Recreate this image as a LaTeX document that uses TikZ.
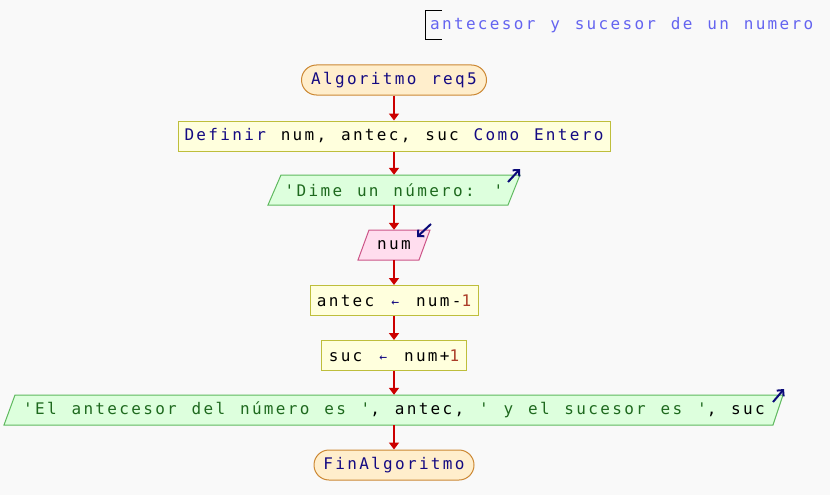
\documentclass[tikz,border=0pt]{standalone}
\usepackage{fontspec}
\newfontfamily\psf[LetterSpace=14.5,WordSpace={1.242,0,0}]{DejaVu Sans Mono}
\usetikzlibrary{arrows.meta}
\definecolor{bg}{RGB}{249,249,249}
\definecolor{termf}{RGB}{255,238,204}
\definecolor{termb}{RGB}{204,136,51}
\definecolor{procf}{RGB}{255,255,221}
\definecolor{procb}{RGB}{190,190,60}
\definecolor{outf}{RGB}{221,255,221}
\definecolor{outb}{RGB}{95,185,95}
\definecolor{inf}{RGB}{255,221,238}
\definecolor{inb}{RGB}{204,85,136}
\definecolor{kw}{RGB}{20,10,130}
\definecolor{strc}{RGB}{30,105,30}
\definecolor{numc}{RGB}{170,60,40}
\definecolor{flowc}{RGB}{204,0,0}
\definecolor{iconc}{RGB}{10,10,120}
\definecolor{comc}{RGB}{100,100,240}
\newcommand{\idt}[1]{\textcolor{black}{#1}}
\newcommand{\strt}[1]{\textcolor{strc}{#1}}
\newcommand{\numt}[1]{\textcolor{numc}{#1}}
\newcommand{\asg}{\makebox[12pt]{\textcolor{kw}{\fontsize{13}{14}\selectfont←}}}
\begin{document}
\begin{tikzpicture}[x=1pt,y=-1pt,
  txt/.style={inner sep=0pt, font=\psf\fontsize{16}{19}\selectfont, text=kw, minimum height=30pt},
  term/.style={txt, draw=termb, fill=termf, rounded corners=15pt, line width=1pt},
  proc/.style={txt, draw=procb, fill=procf, line width=1pt},
  iotext/.style={txt, draw=none},
  outshape/.style={draw=outb, fill=outf, line width=1pt},
  inshape/.style={draw=inb, fill=inf, line width=1pt},
  flow/.style={draw=flowc, line width=2pt, -{Triangle[length=7pt,width=10pt]}},
  icon/.style={draw=iconc, line width=2pt, -{Straight Barb[length=4.5pt,width=9pt]}}
]
\useasboundingbox[fill=bg] (0,0) rectangle (830,495);

% comment
\draw[black, line width=1pt] (442,11) -- (425,11) -- (425,40) -- (442,40);
\node[inner sep=0pt, anchor=west, font=\psf\fontsize{16}{19}\selectfont, text=comc] (com) at (430,25) {antecesor y sucesor de un numero};

% start
\node[term, minimum width=185pt] (start) at (394,80) {Algoritmo req5};
% definir
\node[proc, minimum width=432pt] (def) at (394,136) {Definir \idt{num, antec, suc} Como Entero};
% output 1
\draw[outshape] (281,175) -- (520,175) -- (508,205) -- (268,205) -- cycle;
\node[iotext, minimum width=230pt, text=strc] (dime) at (394,190) {'Dime un número: '};
\draw[icon] (508,182) -- (520,169);
% input
\draw[inshape] (369,230) -- (430,230) -- (419,260) -- (358,260) -- cycle;
\node[iotext, minimum width=60pt, text=black] (num) at (394,245) {num};
\draw[icon] (431,224) -- (417,237);
% assignments
\node[proc, minimum width=168pt, text=black] (antec) at (394,300.5) {antec \asg{} num-\numt{1}};
\node[proc, minimum width=145pt, text=black] (suc) at (394,355.5) {suc \asg{} num+\numt{1}};
% output 2
\draw[outshape] (15,395) -- (783,395) -- (773,425) -- (4,425) -- cycle;
\node[iotext, minimum width=760pt, text=strc] (out) at (394,410) {'El antecesor del número es '\idt{, antec, }' y el sucesor es '\idt{, suc}};
\draw[icon] (773,402) -- (784,389);
% end
\node[term, minimum width=160pt] (fin) at (394,465) {FinAlgoritmo};

% flows
\draw[flow] (start.south) -- (def.north);
\draw[flow] (def.south) -- (dime.north);
\draw[flow] (dime.south) -- (num.north);
\draw[flow] (num.south) -- (antec.north);
\draw[flow] (antec.south) -- (suc.north);
\draw[flow] (suc.south) -- (out.north);
\draw[flow] (out.south) -- (fin.north);
\end{tikzpicture}
\end{document}
